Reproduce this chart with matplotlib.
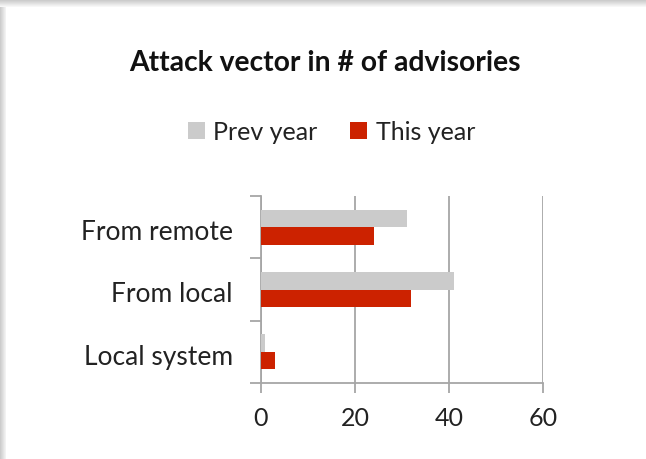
import matplotlib
matplotlib.use("Agg")
import matplotlib.pyplot as plt
from matplotlib.patches import Rectangle
from matplotlib.transforms import ScaledTranslation

categories = ["From remote", "From local", "Local system"]
prev_year = [31, 41, 1]
this_year = [24, 32, 3]
x_ticks = [0, 20, 40, 60]

plt.rcParams["font.family"] = ["Lato", "DejaVu Sans"]
TEXT = "#222222"
GRID = "#a6a6a6"
GREY_BAR = "#cbcbcb"
RED_BAR = "#cc2200"

fig = plt.figure(figsize=(6.46, 4.59), dpi=100)
fig.patch.set_facecolor("white")

# soft drop shadow along the top and left edges of the card
W, H = 646, 459
for i in range(7):
    shade = 0.80 + i * 0.028
    fig.patches.append(Rectangle((0, 1 - (i + 1) / H), 1, 1 / H, transform=fig.transFigure,
                                 facecolor=(shade, shade, shade), edgecolor="none", zorder=0))
for i in range(6):
    shade = 0.80 + i * 0.03
    fig.patches.append(Rectangle((i / W, 0), 1 / W, 1 - 7 / H, transform=fig.transFigure,
                                 facecolor=(shade, shade, shade), edgecolor="none", zorder=0))

ax = fig.add_axes([260.7 / W, 1 - 383 / H, (543.3 - 260.7) / W, (383 - 196) / H])
ax.set_facecolor("none")

h = 0.28
ys = list(range(len(categories)))
ax.barh([y - h / 2 for y in ys], prev_year, height=h, color=GREY_BAR, label="Prev year", zorder=3)
ax.barh([y + h / 2 for y in ys], this_year, height=h, color=RED_BAR, label="This year", zorder=3)

ax.set_xlim(0, 60)
ax.set_ylim(2.5, -0.5)
ax.set_xticks(x_ticks)
ax.set_xticklabels([str(t) for t in x_ticks])
ax.set_yticks(ys)
ax.set_yticklabels(categories)
ax.set_yticks([-0.5, 0.5, 1.5, 2.5], minor=True)

ax.grid(axis="x", color=GRID, linewidth=1.3, zorder=1)
ax.tick_params(axis="y", which="major", length=0, pad=20, labelsize=19, labelcolor=TEXT)
ax.tick_params(axis="y", which="minor", length=8, width=1.3, color=GRID)
ax.tick_params(axis="x", length=7, width=1.3, color=GRID, pad=10, labelsize=18, labelcolor=TEXT)

# nudge category labels slightly downward
shift = ScaledTranslation(0, -3 / 100, fig.dpi_scale_trans)
for lbl in ax.get_yticklabels():
    lbl.set_transform(lbl.get_transform() + shift)

for side in ("top", "right"):
    ax.spines[side].set_visible(False)
for side in ("left", "bottom"):
    ax.spines[side].set_color(GRID)
    ax.spines[side].set_linewidth(1.3)

fig.text(325 / W, 1 - 63 / H, "Attack vector in # of advisories", ha="center", va="center",
         fontsize=20.3, fontweight="bold", color="#111111")

fig.legend(loc="center", bbox_to_anchor=(331.5 / W, 1 - 132 / H), ncol=2, frameon=False,
           fontsize=18, handlelength=0.68, handleheight=0.68, handletextpad=0.35,
           columnspacing=1.3, labelcolor=TEXT, borderpad=0, borderaxespad=0)

fig.savefig("out.png", dpi=100)
